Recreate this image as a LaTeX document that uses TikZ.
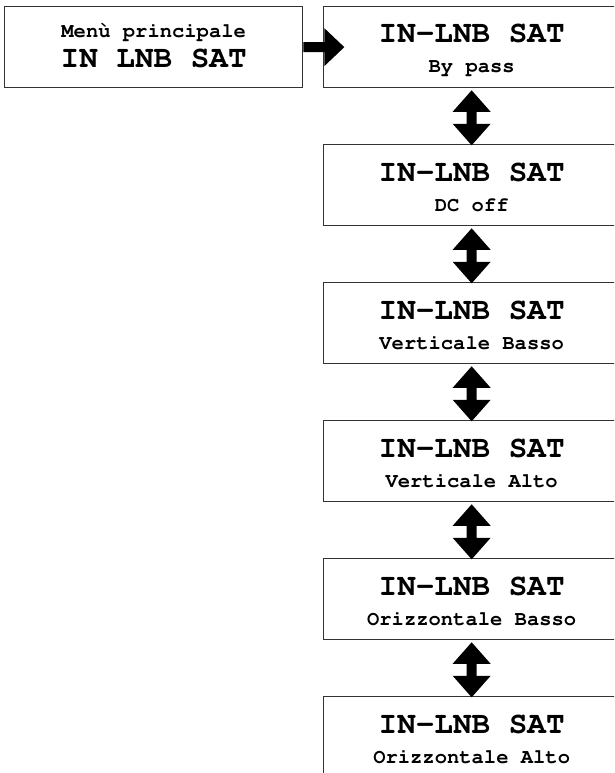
\documentclass[tikz,border=0pt]{standalone}
\usepackage[T1]{fontenc}
\usepackage{courier}
\usetikzlibrary{calc}
\tikzset{
  box/.style={draw=black!80, line width=1.3pt, fill=white, minimum width=296pt, minimum height=81pt, inner sep=0pt, anchor=north west},
  ttl/.style={font=\ttfamily\bfseries\fontsize{31}{31}\selectfont, anchor=base, inner sep=0pt},
  sub/.style={font=\ttfamily\bfseries\fontsize{20.5}{20.5}\selectfont, anchor=base, inner sep=0pt},
  arr/.style={fill=black}
}
\begin{document}
\begin{tikzpicture}[x=1pt,y=1pt]
\useasboundingbox (0,0) rectangle (614,-773);
\clip (0,0) rectangle (614,-773);
\fill[white] (0,0) rectangle (614,-773);
% left box
\node[box, minimum width=298pt] (m) at (4,-6) {};
\node[sub] (mt1) at ($(m.north)+(0,-32)$) {Men\`u principale};
\node[ttl] (mt2) at ($(m.north)+(0,-62)$) {IN LNB SAT};
% right boxes
\foreach \i/\s in {1/By pass,2/DC off,3/Verticale Basso,4/Verticale Alto,5/Orizzontale Basso,6/Orizzontale Alto}{
  \node[box] (b\i) at (323,{-6-138*(\i-1)}) {};
  \node[ttl] (t\i) at ($(b\i.north)+(0,-37)$) {IN-LNB SAT};
  \node[sub] (s\i) at ($(b\i.north)+(0,-67)$) {\s};
}
% horizontal arrow
\fill[arr] ($(m.east)+(0,5)$) -- ++(21,0) -- ++(0,14) -- ++(20,-19) -- ++(-20,-19) -- ++(0,14) -- ++(-21,0) -- cycle;
% double arrows
\foreach \i in {1,...,5}{
  \fill[arr] ($(b\i.south)+(0,-2)$) -- ++(19,-21.5) -- ++(-14,0) -- ++(0,-12) -- ++(14,0) -- ++(-19,-21.5) -- ++(-19,21.5) -- ++(14,0) -- ++(0,12) -- ++(-14,0) -- cycle;
}
\end{tikzpicture}
\end{document}
